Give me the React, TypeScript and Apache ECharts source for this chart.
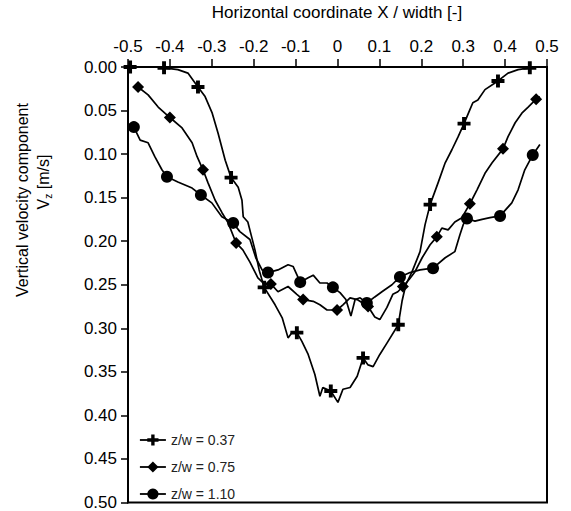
import React, { useEffect, useRef } from 'react';
import * as echarts from 'echarts';

const FONT = '"Liberation Sans", Arial, Helvetica, sans-serif';

const seriesNames = ['z/w = 0.37', 'z/w = 0.75', 'z/w = 1.10'];

const xTickMin = -0.5;
const xTickMax = 0.5;
const xTickStep = 0.1;
const yTickMin = 0;
const yTickMax = 0.5;
const yTickStep = 0.05;

// z/w = 0.37
const xA = [-0.495, -0.486, -0.476, -0.459, -0.436, -0.414, -0.381, -0.357, -0.333, -0.316, -0.299, -0.285, -0.268, -0.254, -0.237, -0.228, -0.225, -0.214, -0.206, -0.197, -0.187, -0.175, -0.149, -0.132, -0.118, -0.109, -0.097, -0.085, -0.070, -0.054, -0.042, -0.035, -0.016, 0.001, 0.013, 0.030, 0.047, 0.061, 0.073, 0.085, 0.101, 0.118, 0.145, 0.154, 0.163, 0.178, 0.197, 0.209, 0.221, 0.240, 0.257, 0.273, 0.288, 0.302, 0.316, 0.323, 0.335, 0.352, 0.383, 0.407, 0.431, 0.459];
const vA = [0.000, -0.001, -0.002, -0.001, 0.000, 0.001, 0.003, 0.007, 0.023, 0.034, 0.053, 0.076, 0.107, 0.127, 0.138, 0.153, 0.172, 0.178, 0.193, 0.210, 0.233, 0.253, 0.273, 0.288, 0.311, 0.305, 0.305, 0.315, 0.330, 0.353, 0.378, 0.368, 0.372, 0.385, 0.370, 0.368, 0.355, 0.334, 0.342, 0.344, 0.330, 0.317, 0.296, 0.269, 0.250, 0.235, 0.212, 0.181, 0.158, 0.133, 0.110, 0.095, 0.080, 0.065, 0.049, 0.041, 0.038, 0.026, 0.016, 0.007, 0.003, 0.001];
const markA = [0, 5, 8, 13, 21, 26, 32, 37, 42, 48, 53, 58, 61];

// z/w = 0.75
const xB = [-0.476, -0.452, -0.428, -0.400, -0.371, -0.347, -0.335, -0.321, -0.309, -0.292, -0.276, -0.261, -0.242, -0.226, -0.209, -0.190, -0.175, -0.159, -0.142, -0.118, -0.097, -0.082, -0.058, -0.042, -0.025, -0.001, 0.013, 0.030, 0.047, 0.073, 0.089, 0.101, 0.118, 0.132, 0.144, 0.156, 0.171, 0.185, 0.202, 0.221, 0.237, 0.249, 0.264, 0.280, 0.297, 0.316, 0.333, 0.352, 0.369, 0.395, 0.407, 0.424, 0.440, 0.455, 0.474, 0.483];
const vB = [0.023, 0.032, 0.046, 0.058, 0.070, 0.087, 0.103, 0.118, 0.133, 0.153, 0.167, 0.179, 0.202, 0.210, 0.224, 0.242, 0.249, 0.249, 0.258, 0.252, 0.261, 0.267, 0.269, 0.273, 0.279, 0.279, 0.273, 0.265, 0.267, 0.275, 0.287, 0.290, 0.276, 0.261, 0.258, 0.252, 0.244, 0.235, 0.219, 0.204, 0.195, 0.185, 0.187, 0.178, 0.173, 0.157, 0.141, 0.122, 0.110, 0.094, 0.080, 0.064, 0.053, 0.046, 0.037, 0.034];
const markB = [0, 3, 7, 12, 17, 21, 25, 29, 35, 40, 45, 49, 54];

// z/w = 1.10
const xC = [-0.486, -0.471, -0.452, -0.436, -0.419, -0.407, -0.381, -0.347, -0.326, -0.300, -0.276, -0.249, -0.233, -0.209, -0.195, -0.180, -0.166, -0.142, -0.118, -0.106, -0.089, -0.070, -0.058, -0.042, -0.025, -0.011, 0.006, 0.020, 0.032, 0.042, 0.054, 0.070, 0.089, 0.106, 0.130, 0.149, 0.173, 0.197, 0.228, 0.257, 0.280, 0.292, 0.300, 0.309, 0.328, 0.345, 0.364, 0.388, 0.416, 0.431, 0.447, 0.466, 0.483];
const vC = [0.069, 0.084, 0.087, 0.103, 0.118, 0.126, 0.132, 0.139, 0.147, 0.156, 0.172, 0.179, 0.189, 0.198, 0.219, 0.233, 0.236, 0.233, 0.227, 0.229, 0.247, 0.242, 0.239, 0.248, 0.248, 0.253, 0.259, 0.267, 0.286, 0.267, 0.265, 0.271, 0.264, 0.258, 0.250, 0.241, 0.236, 0.233, 0.231, 0.219, 0.212, 0.193, 0.181, 0.174, 0.177, 0.175, 0.173, 0.171, 0.156, 0.141, 0.118, 0.101, 0.089];
const markC = [0, 5, 8, 11, 16, 20, 25, 31, 35, 38, 43, 47, 51];

const PLUS = 'path://M4.2,0H7.8V4.2H12V7.8H7.8V12H4.2V7.8H0V4.2H4.2Z';

export default function App() {
  const ref = useRef<HTMLDivElement>(null);
  useEffect(() => {
    if (!ref.current) return;
    const chart = echarts.init(ref.current, null, { renderer: 'svg' });
    const defs = [
      { name: seriesNames[0], xs: xA, vs: vA, marks: markA, symbol: PLUS, size: 13 },
      { name: seriesNames[1], xs: xB, vs: vB, marks: markB, symbol: 'diamond', size: 12 },
      { name: seriesNames[2], xs: xC, vs: vC, marks: markC, symbol: 'circle', size: 12 },
    ];
    const series = defs.map((d) => {
      const set = new Set(d.marks);
      return {
        name: d.name,
        type: 'line',
        data: d.xs.map((x, i) => [x, d.vs[i]]),
        symbol: d.symbol,
        symbolSize: (_v: any, p: any) => (set.has(p.dataIndex) ? d.size : 0),
        showSymbol: true,
        smooth: false,
        lineStyle: { color: '#000', width: 1.7 },
        itemStyle: { color: '#000' },
        z: 3,
      };
    });
    const fmtX = (v: number) => (Math.abs(v) < 1e-9 ? '0' : v.toFixed(1));
    chart.setOption({
      animation: false,
      backgroundColor: '#fff',
      grid: {
        left: 128, top: 67, width: 419, height: 436,
        show: true, borderColor: '#000', borderWidth: 2, backgroundColor: 'transparent',
      },
      legend: {
        data: seriesNames,
        orient: 'vertical',
        left: 134,
        top: 428,
        itemWidth: 26,
        itemHeight: 14,
        itemGap: 13,
        textStyle: { fontFamily: FONT, fontSize: 14, color: '#222' },
        lineStyle: { width: 1.8 },
      },
      xAxis: {
        type: 'value',
        position: 'top',
        min: xTickMin,
        max: xTickMax,
        interval: xTickStep,
        axisLine: { show: true, onZero: false, lineStyle: { color: '#000', width: 2 } },
        axisTick: { show: true, inside: false, length: 8, lineStyle: { color: '#000', width: 1.5 } },
        axisLabel: { formatter: fmtX, fontFamily: FONT, fontSize: 17, color: '#000', margin: 12, showMinLabel: true, showMaxLabel: true, hideOverlap: false },
        splitLine: { show: false },
      },
      yAxis: {
        type: 'value',
        inverse: true,
        min: yTickMin,
        max: yTickMax,
        interval: yTickStep,
        axisLine: { show: true, onZero: false, lineStyle: { color: '#000', width: 2 } },
        axisTick: { show: true, inside: false, length: 7, lineStyle: { color: '#000', width: 1.5 } },
        axisLabel: { formatter: (v: number) => v.toFixed(2), fontFamily: FONT, fontSize: 17, color: '#000', margin: 11, showMinLabel: true, showMaxLabel: true },
        splitLine: { show: false },
      },
      graphic: [
        {
          type: 'text',
          x: 337,
          y: 12,
          style: {
            text: 'Horizontal coordinate X / width [-]',
            fontFamily: FONT, fontSize: 17, fill: '#000',
            align: 'center', verticalAlign: 'middle',
          },
        },
        {
          type: 'text',
          x: 22,
          y: 200,
          rotation: Math.PI / 2,
          style: {
            text: 'Vertical velocity component',
            fontFamily: FONT, fontSize: 16, fill: '#000',
            align: 'center', verticalAlign: 'middle',
          },
        },
        {
          type: 'text',
          x: 43,
          y: 182,
          rotation: Math.PI / 2,
          style: {
            text: '{n|V}{s|z}{n| [m/s]}',
            fontFamily: FONT, fontSize: 16, fill: '#000',
            align: 'center', verticalAlign: 'middle',
            rich: {
              n: { fontFamily: FONT, fontSize: 16, lineHeight: 20, verticalAlign: 'middle', fill: '#000' },
              s: { fontFamily: FONT, fontSize: 10, lineHeight: 10, verticalAlign: 'bottom', fill: '#000' },
            },
          },
        },
      ],
      series,
    });
    return () => chart.dispose();
  }, []);
  return <div ref={ref} style={{ position: 'fixed', left: 0, top: 0, width: 571, height: 511 }} />;
}
